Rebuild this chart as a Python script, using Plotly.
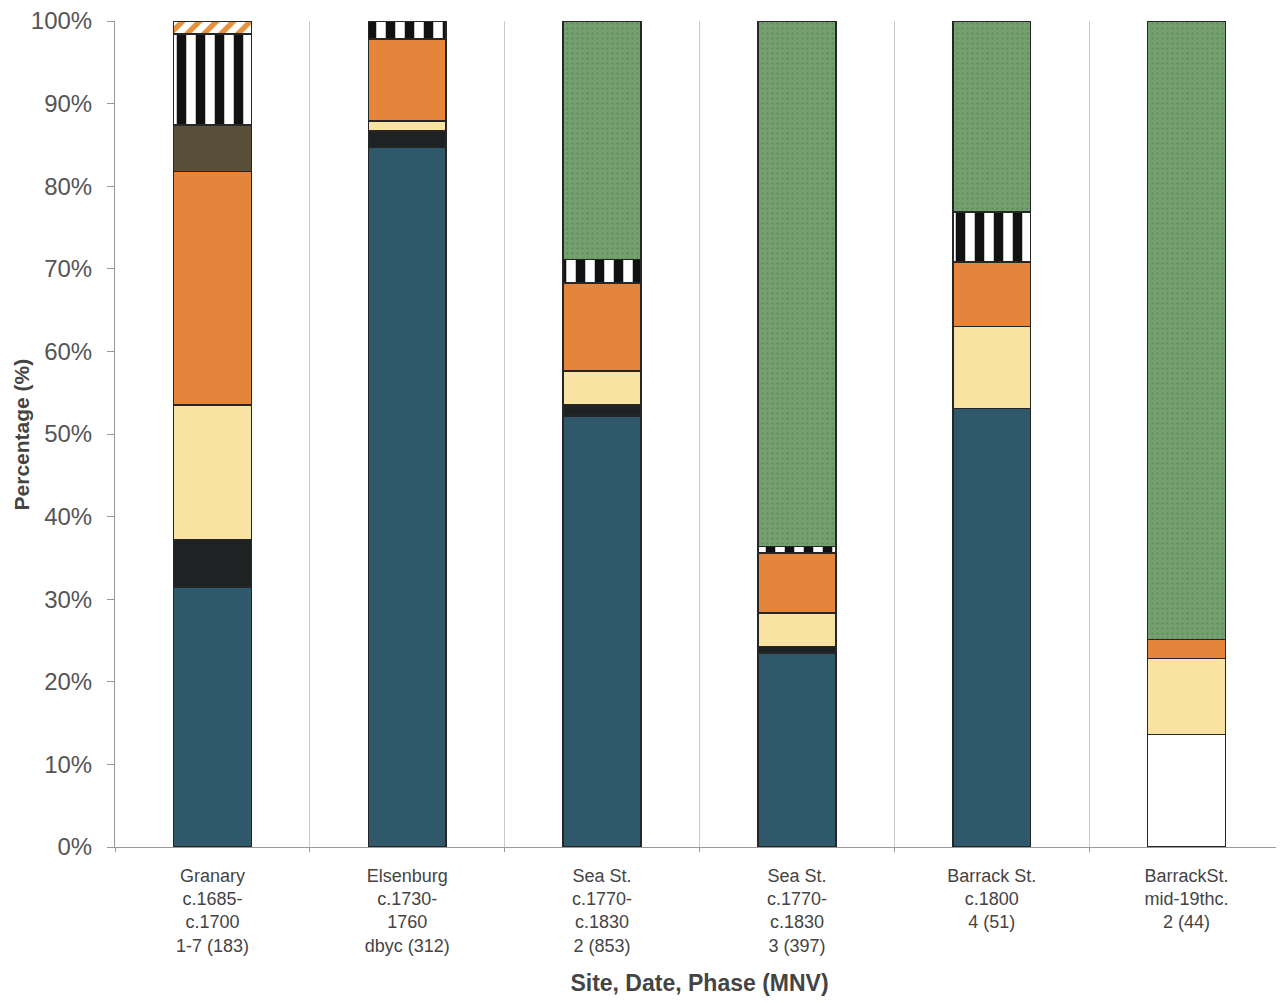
import plotly.graph_objects as go

sites = [
    "Granary<br>c.1685-<br>c.1700<br>1-7 (183)",
    "Elsenburg<br>c.1730-<br>1760<br>dbyc (312)",
    "Sea St.<br>c.1770-<br>c.1830<br>2 (853)",
    "Sea St.<br>c.1770-<br>c.1830<br>3 (397)",
    "Barrack St.<br>c.1800<br>4 (51)",
    "BarrackSt.<br>mid-19thc.<br>2 (44)",
]
pct_ticks = [0, 10, 20, 30, 40, 50, 60, 70, 80, 90, 100]
pct_labels = [f"{v}%" for v in pct_ticks]

# percentages per site, bottom of stack first
white_plain = [0, 0, 0, 0, 0, 13.6]
blue = [31.5, 84.7, 52.2, 23.5, 53.1, 0]
black = [5.7, 2.0, 1.3, 0.8, 0, 0]
yellow = [16.3, 1.2, 4.1, 4.0, 9.9, 9.2]
orange = [28.3, 9.9, 10.7, 7.3, 7.8, 2.3]
olive = [5.6, 0, 0, 0, 0, 0]
stripes = [11.0, 2.2, 2.8, 0.8, 6.1, 0]
hatch = [1.6, 0, 0, 0, 0, 0]
green = [0, 0, 28.9, 63.6, 23.1, 74.9]

outline = dict(color="#262626", width=1.5)

series = [
    ("White", white_plain, dict(color="white", line=outline)),
    ("Blue", blue, dict(color="#2f596b", line=outline)),
    ("Black", black, dict(color="#1e2223", line=outline)),
    ("Yellow", yellow, dict(color="#f8e3a2", line=outline)),
    ("Orange", orange, dict(color="#e5853b", line=outline)),
    ("Olive", olive, dict(color="#5a5039", line=outline)),
    ("Striped", stripes, dict(color="white", line=outline,
                              pattern=dict(shape="|", fgcolor="#111111", bgcolor="white",
                                           fgopacity=1, size=19, solidity=0.5))),
    ("Orange hatched", hatch, dict(color="white", line=outline,
                                   pattern=dict(shape="/", fgcolor="#e8903c", bgcolor="white",
                                                fgopacity=1, size=12, solidity=0.45))),
    ("Green", green, dict(color="#719d6c", line=outline,
                          pattern=dict(shape=".", fgcolor="#4d7a4c", bgcolor="#74a06f",
                                       fgopacity=0.6, size=5, solidity=0.15))),
]

fig = go.Figure()
for name, vals, marker in series:
    fig.add_trace(go.Bar(x=sites, y=vals, name=name, marker=marker, width=0.4))

# page body adds an 8px offset, so the figure is sized to fit inside it
fig.update_layout(
    barmode="stack",
    width=1276, height=995,
    margin=dict(l=107, r=0, t=13, b=156),
    paper_bgcolor="white",
    plot_bgcolor="white",
    showlegend=False,
    font=dict(family="Liberation Sans, Arial, sans-serif", color="#444444"),
)

fig.update_xaxes(
    automargin=False,
    tickson="boundaries",
    showgrid=True, gridcolor="#c9c9c9", gridwidth=1,
    showline=True, linecolor="#999999", linewidth=1,
    ticks="outside", ticklen=4, tickcolor="#999999",
    ticklabelstandoff=12,
    tickfont=dict(size=18, color="#444444"),
    title=dict(text="<b>Site, Date, Phase (MNV)</b>", font=dict(size=23, color="#444444"),
               standoff=20),
)

fig.update_yaxes(
    automargin=False,
    range=[0, 100],
    tickmode="array",
    tickvals=pct_ticks,
    ticktext=pct_labels,
    ticklabeloverflow="allow",
    showgrid=False,
    showline=True, linecolor="#999999", linewidth=1,
    ticks="outside", ticklen=7, tickcolor="#999999",
    ticklabelstandoff=10,
    tickfont=dict(size=24, color="#555555"),
    zeroline=False,
)

fig.add_annotation(
    text="<b>Percentage (%)</b>", textangle=-90,
    xref="paper", yref="paper", x=-0.08, y=0.5,
    xanchor="center", yanchor="middle", showarrow=False,
    font=dict(size=21, color="#444444"),
)

fig.write_html("out.html")
